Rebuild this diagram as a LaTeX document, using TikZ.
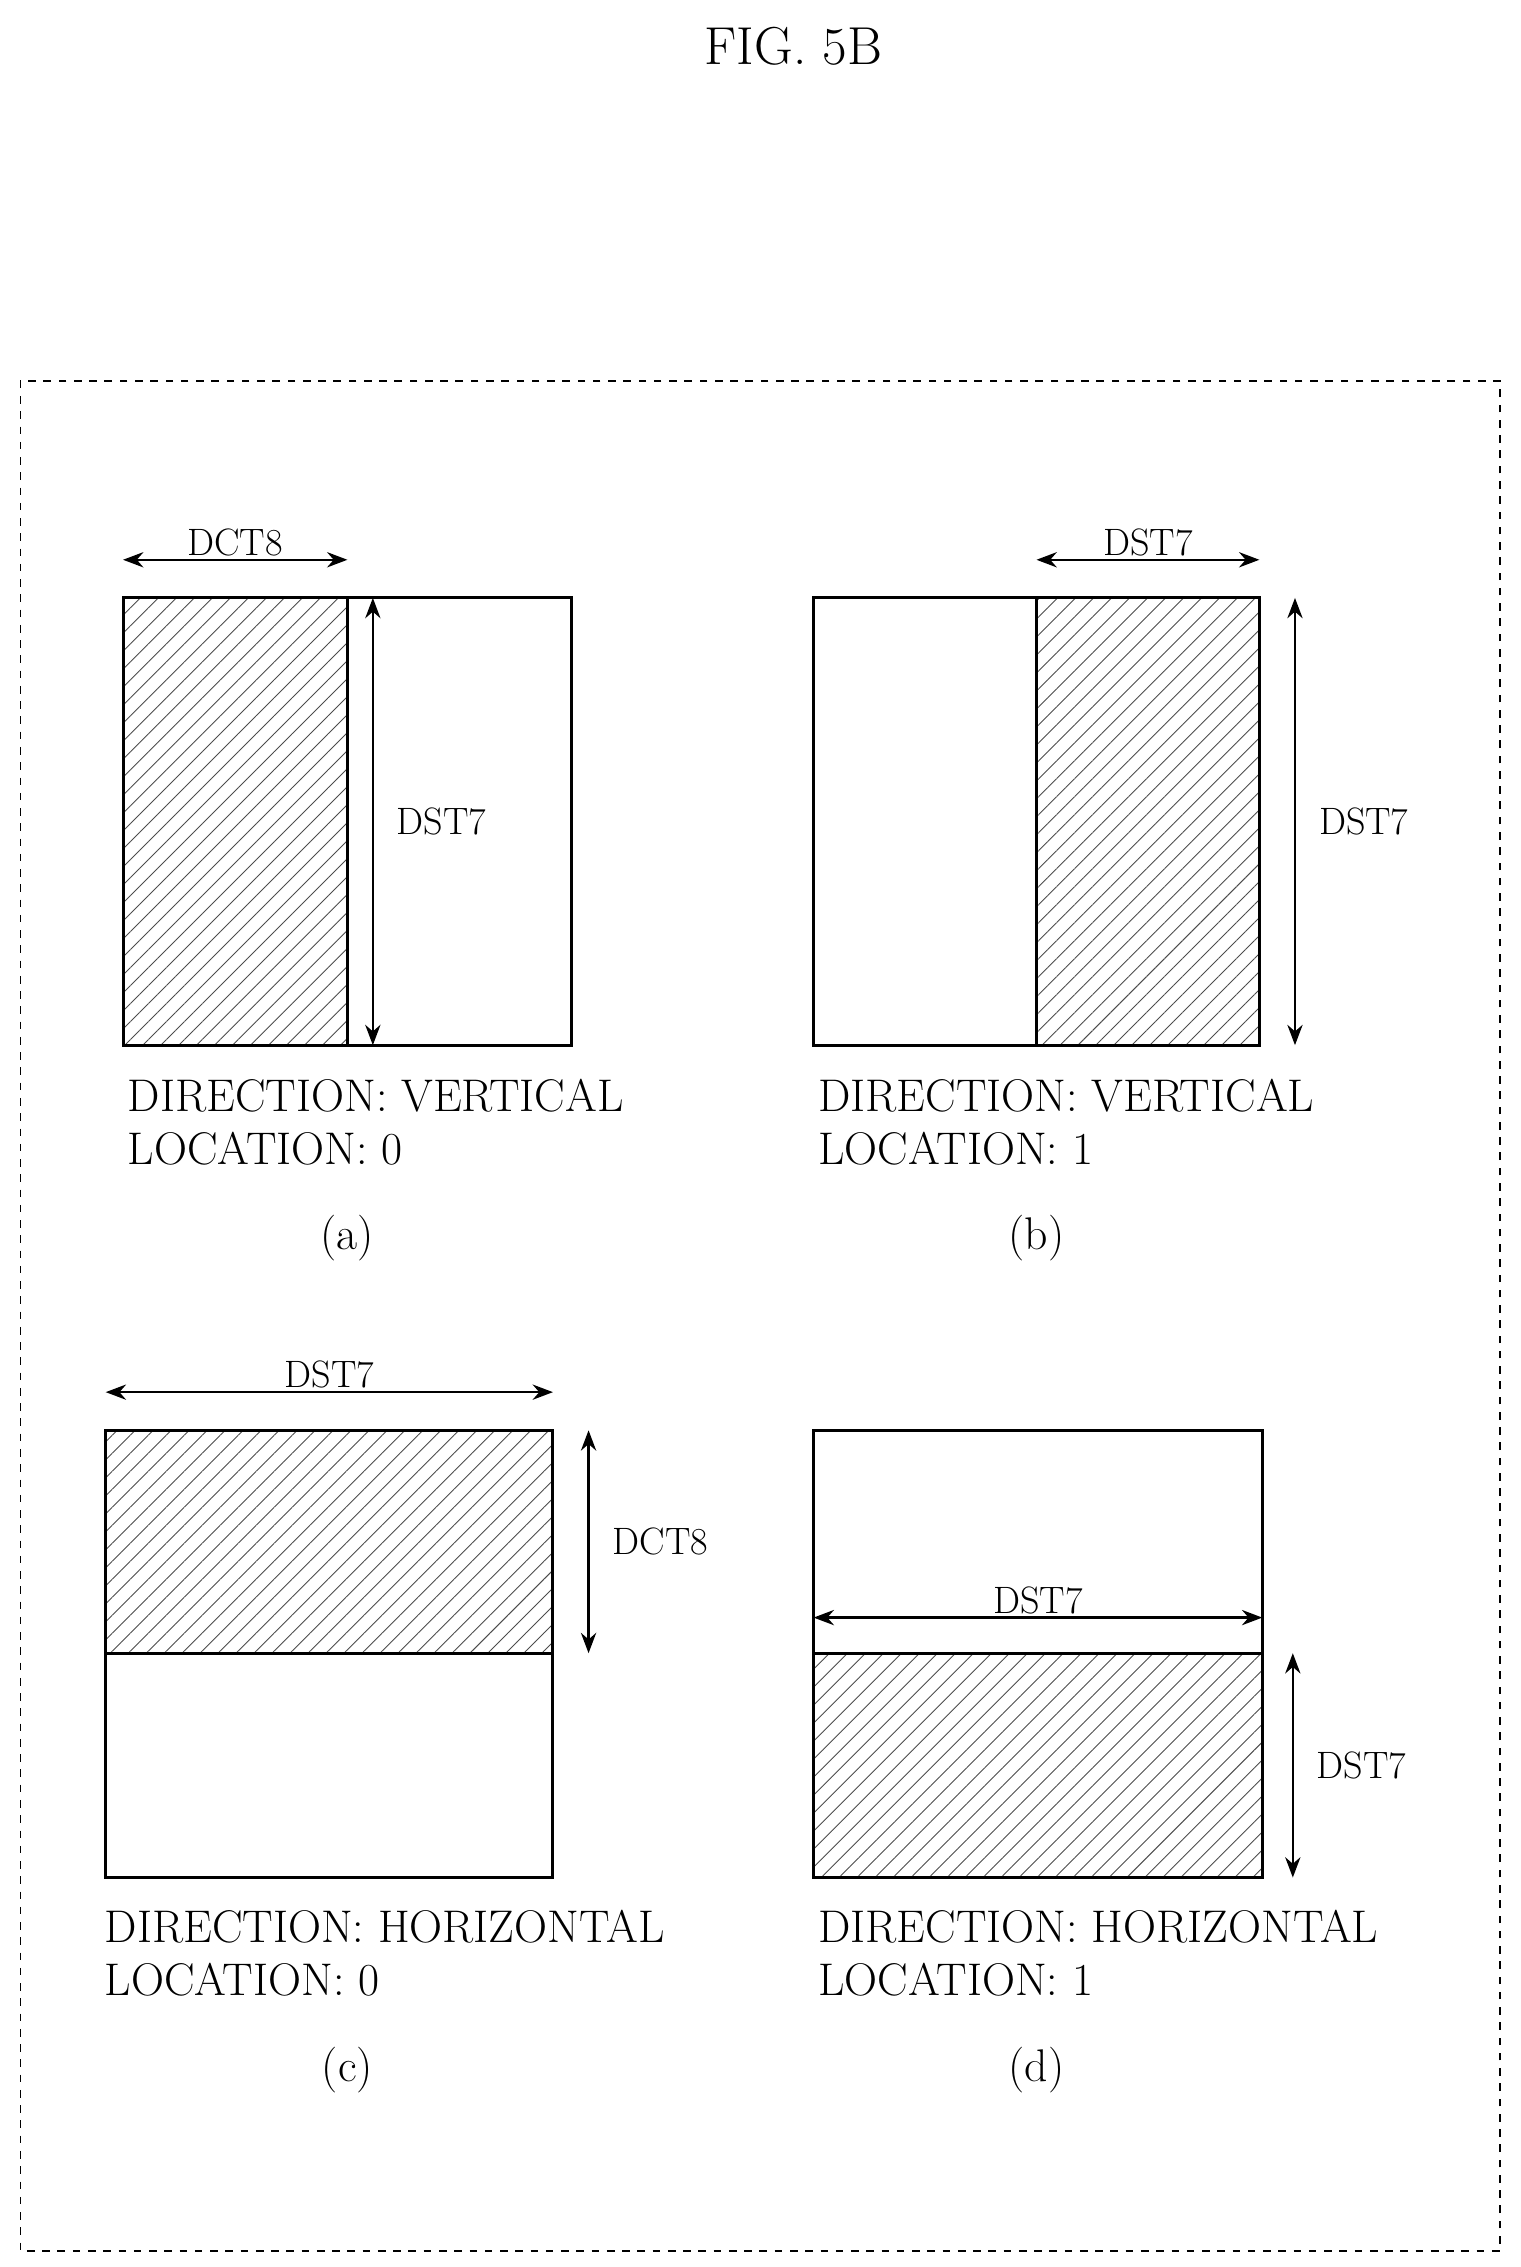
\documentclass[tikz,border=0pt]{standalone}
\usetikzlibrary{positioning, patterns.meta, arrows.meta}
\tikzset{
  half/.style={draw, line width=1.2pt, inner sep=0pt, outer sep=0pt},
  hatched/.style={half, pattern={Lines[angle=45,distance=5pt,line width=0.35pt]}, pattern color=black!70},
  dimarrow/.style={line width=0.9pt, {Stealth[length=8pt,width=6pt]}-{Stealth[length=8pt,width=6pt]}},
  dimlabel/.style={font=\fontsize{15}{17}\selectfont, inner sep=1pt},
  caption/.style={font=\fontsize{18}{21}\selectfont, align=left, anchor=north west, inner sep=0pt},
  sublabel/.style={font=\fontsize{18}{21}\selectfont}
}
\begin{document}
\begin{tikzpicture}[x=0.02cm, y=-0.02cm]
\useasboundingbox (0,0) rectangle (1050,1566);

\node (title) at (548,32) {\fontsize{21}{24}\selectfont FIG. 5B};
\draw [dashed, line width=0.6pt] (14,263) rectangle (1036,1555);

% (a)
\node (a1) [hatched, minimum width=3.1cm, minimum height=6.18cm] at (162.5,567.5) {};
\node (a2) [half, minimum width=3.1cm, minimum height=6.18cm, right=0pt of a1] {};
\draw [dimarrow] ([yshift=15pt]a1.north west) -- node[dimlabel, above] {DCT8} ([yshift=15pt]a1.north east);
\draw [dimarrow] ([xshift=10pt]a2.north west) -- node[dimlabel, right=8pt] {DST7} ([xshift=10pt]a2.south west);
\node (acap) [caption] at (88,745) {DIRECTION: VERTICAL\\LOCATION: 0};
\node (alab) [sublabel] at (240,855) {(a)};

% (b)
\node (b1) [half, minimum width=3.08cm, minimum height=6.18cm] at (639,567.5) {};
\node (b2) [hatched, minimum width=3.08cm, minimum height=6.18cm, right=0pt of b1] {};
\draw [dimarrow] ([yshift=15pt]b2.north west) -- node[dimlabel, above] {DST7} ([yshift=15pt]b2.north east);
\draw [dimarrow] ([xshift=14pt]b2.north east) -- node[dimlabel, right=8pt] {DST7} ([xshift=14pt]b2.south east);
\node (bcap) [caption] at (565,745) {DIRECTION: VERTICAL\\LOCATION: 1};
\node (blab) [sublabel] at (716,855) {(b)};

% (c)
\node (c1) [hatched, minimum width=6.18cm, minimum height=3.08cm] at (227.5,1065) {};
\node (c2) [half, minimum width=6.18cm, minimum height=3.1cm, below=0pt of c1] {};
\draw [dimarrow] ([yshift=15pt]c1.north west) -- node[dimlabel, above] {DST7} ([yshift=15pt]c1.north east);
\draw [dimarrow] ([xshift=14pt]c1.north east) -- node[dimlabel, right=8pt] {DCT8} ([xshift=14pt]c1.south east);
\node (ccap) [caption] at (72,1319) {DIRECTION: HORIZONTAL\\LOCATION: 0};
\node (clab) [sublabel] at (240,1430) {(c)};

% (d)
\node (d1) [half, minimum width=6.2cm, minimum height=3.08cm] at (717,1065) {};
\node (d2) [hatched, minimum width=6.2cm, minimum height=3.1cm, below=0pt of d1] {};
\draw [dimarrow] ([yshift=14pt]d2.north west) -- node[dimlabel, above] {DST7} ([yshift=14pt]d2.north east);
\draw [dimarrow] ([xshift=12pt]d2.north east) -- node[dimlabel, right=8pt] {DST7} ([xshift=12pt]d2.south east);
\node (dcap) [caption] at (565,1319) {DIRECTION: HORIZONTAL\\LOCATION: 1};
\node (dlab) [sublabel] at (716,1430) {(d)};

\end{tikzpicture}
\end{document}
